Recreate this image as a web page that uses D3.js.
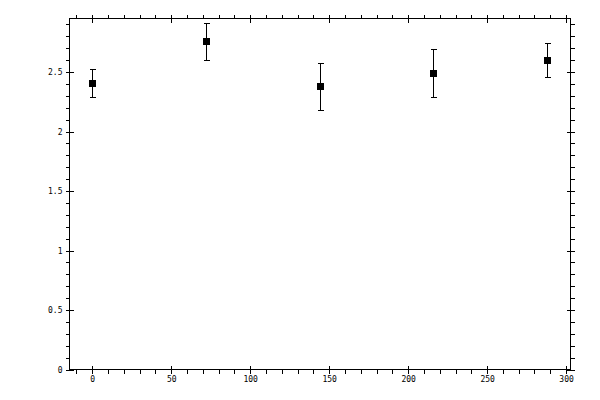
<!DOCTYPE html>
<html>
<head>
<meta charset="utf-8">
<script src="https://cdn.jsdelivr.net/npm/d3@7"></script>
<style>
  body { margin: 0; background: #fff; }
  .axis text { font-family: "DejaVu Sans Mono", monospace; font-size: 8px; fill: #000; }
  .axis path { display: none; }
  .axis line { stroke: #000; stroke-width: 1; }
</style>
</head>
<body>
<div id="chart"></div>
<script>
// data
var xValues = [0, 72, 144, 216, 288];
var yValues = [2.405, 2.76, 2.38, 2.49, 2.60];
var yErrors = [0.117, 0.155, 0.2, 0.2, 0.143];

var xMajor = [0, 50, 100, 150, 200, 250, 300];
var xMinor = d3.range(-10, 301, 10).filter((d) => d % 50 !== 0);
var yMajor = [0, 0.5, 1, 1.5, 2, 2.5];
var yMinor = d3.range(1, 30).filter((d) => d % 5 !== 0).map((d) => d / 10);

var svgWidth = 600;
var svgHeight = 400;

var svg = d3
  .select("#chart")
  .append("svg")
  .attr("width", svgWidth)
  .attr("height", svgHeight)
  .attr("shape-rendering", "crispEdges");

var xScale = d3.scaleLinear().domain([-14.4, 302.8]).range([69.5, 570.5]);
var yScale = d3.scaleLinear().domain([0, 2.95]).range([369.5, 18.5]);

var plotLeft = xScale.range()[0];
var plotRight = xScale.range()[1];
var plotTop = yScale.range()[1];
var plotBottom = yScale.range()[0];

var fmt = (d) => String(d);

// helper: draws one axis twice so the major ticks cross the frame line
function addAxis(axisFn, scale, transform, major, minor, labels) {
  svg.append("g").attr("class", "axis").attr("transform", transform)
    .call(axisFn(scale).tickValues(major).tickSize(4).tickPadding(3)
      .tickFormat(labels ? fmt : ""));
  svg.append("g").attr("class", "axis").attr("transform", transform)
    .call(axisFn(scale).tickValues(major).tickSize(-4).tickFormat(""));
  svg.append("g").attr("class", "axis").attr("transform", transform)
    .call(axisFn(scale).tickValues(minor).tickSize(4).tickFormat(""));
}

addAxis(d3.axisBottom, xScale, `translate(0, ${plotBottom})`, xMajor, xMinor, true);
addAxis(d3.axisTop, xScale, `translate(0, ${plotTop})`, xMajor, xMinor, false);
addAxis(d3.axisLeft, yScale, `translate(${plotLeft}, 0)`, yMajor, yMinor, true);
addAxis(d3.axisRight, yScale, `translate(${plotRight}, 0)`, yMajor, yMinor, false);

// frame
svg.append("rect")
  .attr("x", plotLeft)
  .attr("y", plotTop)
  .attr("width", plotRight - plotLeft)
  .attr("height", plotBottom - plotTop)
  .attr("fill", "none")
  .attr("stroke", "#000");

var points = xValues.map((x, i) => ({ x: x, y: yValues[i], e: yErrors[i] }));

var bars = svg.append("g").attr("stroke", "#000").attr("stroke-width", 1);

bars.selectAll(".stem")
  .data(points)
  .enter()
  .append("line")
  .attr("x1", (d) => Math.round(xScale(d.x)) + 0.5)
  .attr("x2", (d) => Math.round(xScale(d.x)) + 0.5)
  .attr("y1", (d) => Math.round(yScale(d.y + d.e)) + 0.5)
  .attr("y2", (d) => Math.round(yScale(d.y - d.e)) + 0.5);

[1, -1].forEach(function (s) {
  bars.selectAll(".cap" + s)
    .data(points)
    .enter()
    .append("line")
    .attr("x1", (d) => Math.round(xScale(d.x)) - 2.5)
    .attr("x2", (d) => Math.round(xScale(d.x)) + 3.5)
    .attr("y1", (d) => Math.round(yScale(d.y + s * d.e)) + 0.5)
    .attr("y2", (d) => Math.round(yScale(d.y + s * d.e)) + 0.5);
});

svg.append("g")
  .selectAll("rect")
  .data(points)
  .enter()
  .append("rect")
  .attr("x", (d) => Math.round(xScale(d.x)) - 3)
  .attr("y", (d) => Math.round(yScale(d.y)) - 3)
  .attr("width", 7)
  .attr("height", 7)
  .attr("fill", "#000");
</script>
</body>
</html>
